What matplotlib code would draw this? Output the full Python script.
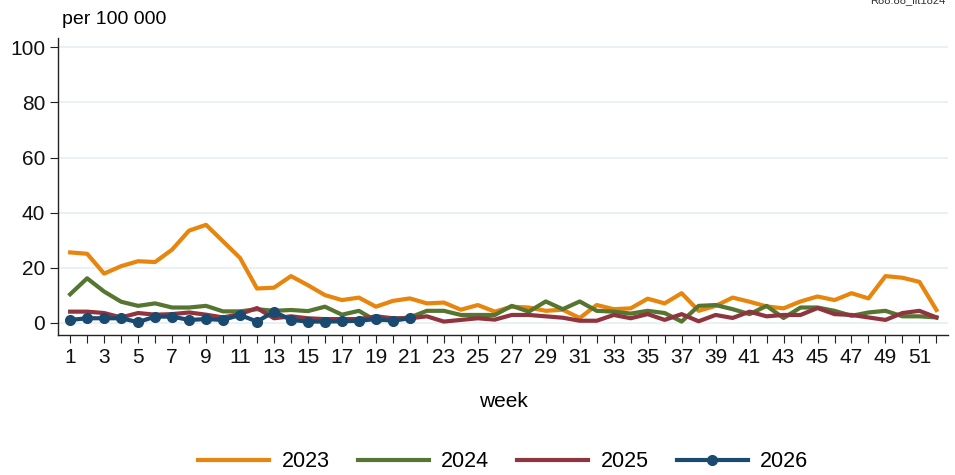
import numpy as np
import matplotlib
matplotlib.use("Agg")
import matplotlib.pyplot as plt

plt.rcParams['font.family'] = ['Liberation Sans', 'DejaVu Sans']

weeks = list(range(1, 53))

# per 100 000
y2023 = [25.6, 25.1, 17.9, 20.6, 22.4, 22.1, 26.6, 33.5, 35.6, 29.6,
         23.6, 12.5, 12.8, 17.0, 13.7, 10.1, 8.3, 9.2, 5.9, 8.0,
         8.9, 7.1, 7.4, 4.8, 6.5, 4.1, 5.9, 5.6, 4.4, 4.8,
         1.8, 6.5, 5.0, 5.3, 8.8, 7.1, 10.8, 4.4, 6.2, 9.2,
         7.7, 6.0, 5.3, 7.8, 9.6, 8.3, 10.8, 8.9, 17.0, 16.4,
         14.9, 4.7]
y2024 = [10.4, 16.2, 11.4, 7.7, 6.2, 7.1, 5.6, 5.6, 6.2, 4.2,
         4.2, 5.0, 4.4, 4.7, 4.3, 5.9, 3.0, 4.4, 0.8, 1.4,
         2.0, 4.4, 4.4, 2.9, 2.9, 2.9, 6.2, 4.1, 7.8, 5.0,
         7.8, 4.4, 4.1, 3.4, 4.4, 3.6, 0.5, 6.2, 6.5, 5.0,
         3.2, 6.2, 1.8, 5.6, 5.6, 4.4, 2.6, 3.8, 4.4, 2.4,
         2.4, 2.0]
y2025 = [4.1, 4.1, 3.6, 2.0, 3.6, 3.0, 3.2, 3.8, 3.0, 2.0,
         3.2, 5.4, 1.7, 2.4, 1.7, 1.4, 1.4, 1.4, 2.4, 1.7,
         1.7, 2.4, 0.5, 1.1, 1.7, 1.2, 2.9, 2.9, 2.4, 1.9,
         0.8, 0.8, 2.9, 1.7, 3.2, 1.1, 3.2, 0.6, 2.9, 1.8,
         4.1, 2.4, 2.9, 2.9, 5.4, 3.2, 2.9, 2.0, 1.1, 3.6,
         4.4, 2.0]
y2026 = [1.1, 1.7, 1.7, 1.7, 0.3, 2.3, 2.3, 1.1, 1.4, 1.1,
         2.9, 0.5, 4.1, 1.1, 0.5, 0.5, 0.6, 0.8, 1.4, 0.8,
         1.7]

colors = {'2023': '#E8850C', '2024': '#557530', '2025': '#8F3540', '2026': '#1B4A70'}

fig = plt.figure(figsize=(9.55, 4.75), dpi=100)
ax = fig.add_axes([0.061, 0.294, 0.932, 0.626])

lw = 3.0
ax.plot(weeks, y2023, color=colors['2023'], lw=lw, label='2023', zorder=3)
ax.plot(weeks, y2024, color=colors['2024'], lw=lw, label='2024', zorder=4)
ax.plot(weeks, y2025, color=colors['2025'], lw=lw, label='2025', zorder=5)
ax.plot(weeks[:len(y2026)], y2026, color=colors['2026'], lw=lw, marker='o',
        markersize=7, label='2026', zorder=6)

ax.set_xlim(0.3, 52.7)
ax.set_ylim(-4.5, 103.4)
ax.set_yticks([0, 20, 40, 60, 80, 100])
ax.set_xticks(weeks)
ax.set_xticklabels([str(w) if w % 2 == 1 else '' for w in weeks])
ax.grid(axis='y', color='#e6eff1', lw=1.2, zorder=0)
ax.set_axisbelow(True)
for s in ['top', 'right']:
    ax.spines[s].set_visible(False)
for s in ['left', 'bottom']:
    ax.spines[s].set_color('#222222')
    ax.spines[s].set_linewidth(1.0)
ax.tick_params(axis='both', labelsize=15, length=6, color='#222222', labelcolor='#111111')
ax.tick_params(axis='x', pad=3)

ax.set_xlabel('week', fontsize=15, labelpad=18)
fig.text(0.065, 0.958, 'per 100 000', fontsize=14, ha='left', va='center')
fig.text(0.99, 1.0, 'R88.88_lit1824', fontsize=8, color='#333333', ha='right', va='center')

leg = fig.legend(loc='center', bbox_to_anchor=(0.527, 0.028), ncol=4, frameon=False,
                 fontsize=15.5, handlelength=3.3, columnspacing=1.3, handletextpad=0.58)

fig.savefig('out.png', dpi=100)
